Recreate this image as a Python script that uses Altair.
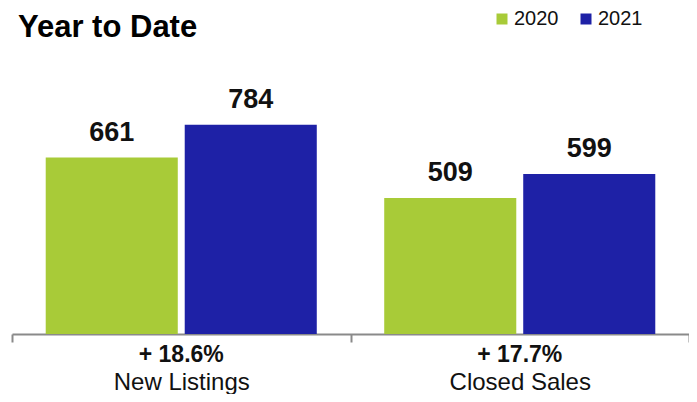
import altair as alt
import pandas as pd

title_text = ["Year to Date"]

categories = ["New Listings", "New Listings", "Closed Sales", "Closed Sales"]
years = ["2020", "2021", "2020", "2021"]
values = [661, 784, 509, 599]

pct_categories = ["New Listings", "Closed Sales"]
pct_labels = ["+ 18.6%", "+ 17.7%"]

df = pd.DataFrame({"category": categories, "year": years, "value": values})
pct_df = pd.DataFrame({"category": pct_categories, "pct": pct_labels})
title_df = pd.DataFrame({"t": title_text})

cat_order = ["New Listings", "Closed Sales"]
colors = ["#A8CB38", "#1E21A6"]

x = alt.X(
    "category:N",
    sort=cat_order,
    scale=alt.Scale(paddingInner=0, paddingOuter=0),
    axis=alt.Axis(
        title=None,
        labelAngle=0,
        labelFont="Liberation Sans",
        labelFontSize=24,
        labelColor="#111111",
        labelPadding=28,
        domainColor="#8a8a8a",
        domainWidth=2,
        tickColor="#8a8a8a",
        tickWidth=2,
        tickSize=8,
        tickBand="extent",
    ),
)
y = alt.Y("value:Q", scale=alt.Scale(domain=[0, 1000]), axis=None)
xoff = alt.XOffset("year:N", scale=alt.Scale(paddingInner=0.05, paddingOuter=0.2426))

bars = alt.Chart(df).mark_bar().encode(
    x=x,
    xOffset=xoff,
    y=y,
    color=alt.Color(
        "year:N",
        scale=alt.Scale(domain=["2020", "2021"], range=colors),
        legend=alt.Legend(
            title=None,
            orient="none",
            legendX=480,
            legendY=-58,
            direction="horizontal",
            symbolType="square",
            symbolSize=121,
            symbolStrokeWidth=0,
            labelFont="Liberation Sans",
            labelFontSize=20,
            labelColor="#111111",
            labelOffset=2,
            columnPadding=17,
            padding=0,
        ),
    ),
)

value_labels = alt.Chart(df).mark_text(
    font="Liberation Sans", fontWeight="bold", fontSize=27, dy=-17,
    baseline="alphabetic", color="#111111",
).encode(
    x=x,
    xOffset=xoff,
    y=y,
    text=alt.Text("value:Q"),
)

pct_text = alt.Chart(pct_df).mark_text(
    font="Liberation Sans", fontWeight="bold", fontSize=23, dy=28,
    baseline="alphabetic", color="#111111",
).encode(
    x=x,
    y=alt.datum(0),
    text="pct:N",
)

title_mark = alt.Chart(title_df).mark_text(
    font="Liberation Sans",
    fontWeight="bold", fontSize=31, align="left", baseline="alphabetic",
    color="#000000",
).encode(
    x=alt.value(6),
    y=alt.value(-30),
    text="t:N",
)

chart = alt.layer(bars, value_labels, pct_text, title_mark).properties(
    width=677,
    height=267,
    autosize=alt.AutoSizeParams(type="none"),
    padding={"left": 4, "top": 59, "right": 0, "bottom": 60},
    background="white",
).configure_view(strokeWidth=0, stroke="transparent")

chart.save("out.html", embed_options={"renderer": "svg", "actions": False})
